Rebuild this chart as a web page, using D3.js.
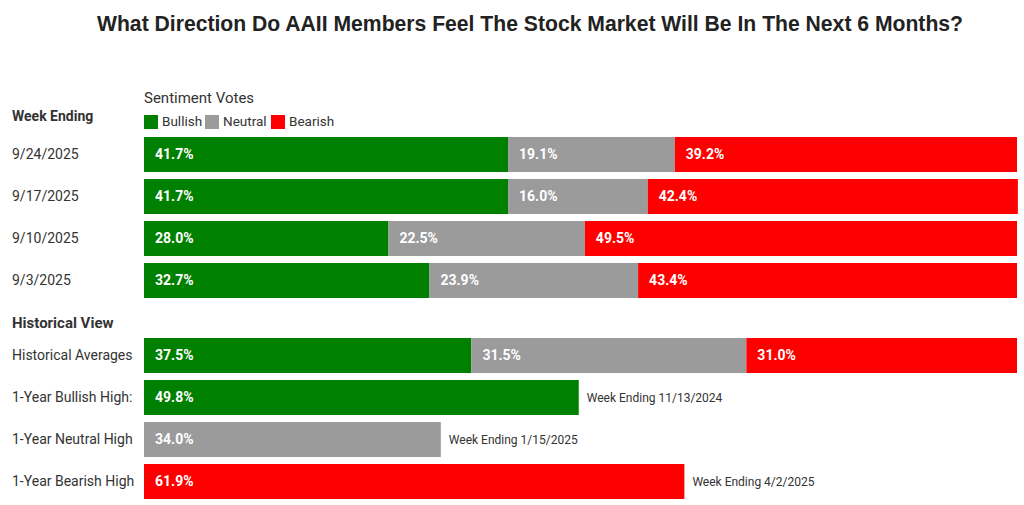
<!DOCTYPE html>
<html>
<head>
<meta charset="utf-8">
<script src="https://cdn.jsdelivr.net/npm/d3@7"></script>
<style>
  body { margin: 0; background: #fff; }
  svg { display: block; }
</style>
</head>
<body>
<svg id="chart"></svg>
<script>
const width = 1024;
const height = 505;

// DATA -------------------------------------------
const weeks = ['9/24/2025', '9/17/2025', '9/10/2025', '9/3/2025'];
const bullish = [41.7, 41.7, 28.0, 32.7];
const neutral = [19.1, 16.0, 22.5, 23.9];
const bearish = [39.2, 42.4, 49.5, 43.4];

const histLabels = ['Historical Averages', '1-Year Bullish High:', '1-Year Neutral High', '1-Year Bearish High'];
const histBullish = [37.5, 49.8, 0, 0];
const histNeutral = [31.5, 0, 34.0, 0];
const histBearish = [31.0, 0, 0, 61.9];
const histNotes = ['', 'Week Ending 11/13/2024', 'Week Ending 1/15/2025', 'Week Ending 4/2/2025'];

const seriesNames = ['Bullish', 'Neutral', 'Bearish'];
const seriesColors = ['#008000', '#9b9b9b', '#ff0000'];

const font = 'Roboto, "Noto Sans", sans-serif';
const textColor = '#333333';

const svg = d3.select('svg#chart')
    .attr('width', width)
    .attr('height', height);

// TITLE -------------------------------------------
svg.append('text')
    .text('What Direction Do AAII Members Feel The Stock Market Will Be In The Next 6 Months?')
    .attr('x', 530)
    .attr('y', 31)
    .attr('text-anchor', 'middle')
    .attr('textLength', 866)
    .attr('lengthAdjust', 'spacingAndGlyphs')
    .style('font-family', '"Liberation Sans", Arial, sans-serif')
    .style('font-weight', 'bold')
    .style('font-size', '22px')
    .style('fill', '#222');

// SCALES -------------------------------------------
const x = d3.scaleLinear().domain([0, 100]).range([144, 1017]);
const color = d3.scaleOrdinal().domain(seriesNames).range(seriesColors);

const yWeek = d3.scaleBand().domain(weeks).range([137, 298]).paddingInner(7 / 42).paddingOuter(0);
const yHist = d3.scaleBand().domain(histLabels).range([338, 499]).paddingInner(7 / 42).paddingOuter(0);

// LEGEND -------------------------------------------
svg.append('text')
    .text('Sentiment Votes')
    .attr('x', 144)
    .attr('y', 103)
    .style('font-family', font)
    .style('font-size', '15px')
    .style('fill', textColor);

const legendX = [144, 205, 271];
seriesNames.forEach((name, i) => {
    svg.append('rect')
        .attr('x', legendX[i])
        .attr('y', 115)
        .attr('width', 14)
        .attr('height', 14)
        .attr('fill', color(name));
    svg.append('text')
        .text(name)
        .attr('x', legendX[i] + 18)
        .attr('y', 122)
        .attr('dominant-baseline', 'middle')
        .style('font-family', font)
        .style('font-size', '13.5px')
        .style('fill', textColor);
});

// SECTION HEADERS -----------------------------------
svg.append('text')
    .text('Week Ending')
    .attr('x', 12)
    .attr('y', 121)
    .style('font-family', font)
    .style('font-weight', 'bold')
    .style('font-size', '14px')
    .style('fill', textColor);

svg.append('text')
    .text('Historical View')
    .attr('x', 12)
    .attr('y', 328)
    .style('font-family', font)
    .style('font-weight', 'bold')
    .style('font-size', '15px')
    .style('fill', textColor);

// BARS -------------------------------------------
function stackRows(labels, b, n, r) {
    return labels.map((label, i) => {
        const vals = [b[i], n[i], r[i]];
        let acc = 0;
        const segs = vals.map((v, j) => {
            const s = { series: seriesNames[j], value: v, x0: acc, x1: acc + v };
            acc += v;
            return s;
        }).filter(s => s.value > 0);
        return { label: label, segs: segs, total: acc };
    });
}

function drawRows(rows, y, notes) {
    const g = svg.append('g');

    g.selectAll('.row-label')
        .data(rows).enter()
        .append('text')
        .attr('class', 'row-label')
        .text(d => d.label)
        .attr('x', 12)
        .attr('y', d => y(d.label) + y.bandwidth() / 2 + 1)
        .attr('dominant-baseline', 'middle')
        .style('font-family', font)
        .style('font-size', '14px')
        .style('fill', textColor);

    const row = g.selectAll('.row')
        .data(rows).enter()
        .append('g')
        .attr('class', 'row')
        .attr('transform', d => `translate(0 ${y(d.label)})`);

    const seg = row.selectAll('.seg')
        .data(d => d.segs).enter()
        .append('g')
        .attr('class', 'seg');

    seg.append('rect')
        .attr('x', d => x(d.x0))
        .attr('width', d => x(d.x1) - x(d.x0))
        .attr('y', 0)
        .attr('height', y.bandwidth())
        .attr('fill', d => color(d.series));

    seg.append('text')
        .text(d => d.value.toFixed(1) + '%')
        .attr('x', d => x(d.x0) + 11)
        .attr('y', y.bandwidth() / 2 + 1)
        .attr('dominant-baseline', 'middle')
        .style('font-family', font)
        .style('font-weight', 'bold')
        .style('font-size', '14px')
        .style('fill', '#ffffff');

    if (notes) {
        row.append('text')
            .text((d, i) => notes[i])
            .attr('x', d => x(d.total) + 8)
            .attr('y', y.bandwidth() / 2 + 1)
            .attr('dominant-baseline', 'middle')
            .style('font-family', font)
            .style('font-size', '12px')
            .style('fill', textColor);
    }
}

drawRows(stackRows(weeks, bullish, neutral, bearish), yWeek, null);
drawRows(stackRows(histLabels, histBullish, histNeutral, histBearish), yHist, histNotes);
</script>
</body>
</html>
